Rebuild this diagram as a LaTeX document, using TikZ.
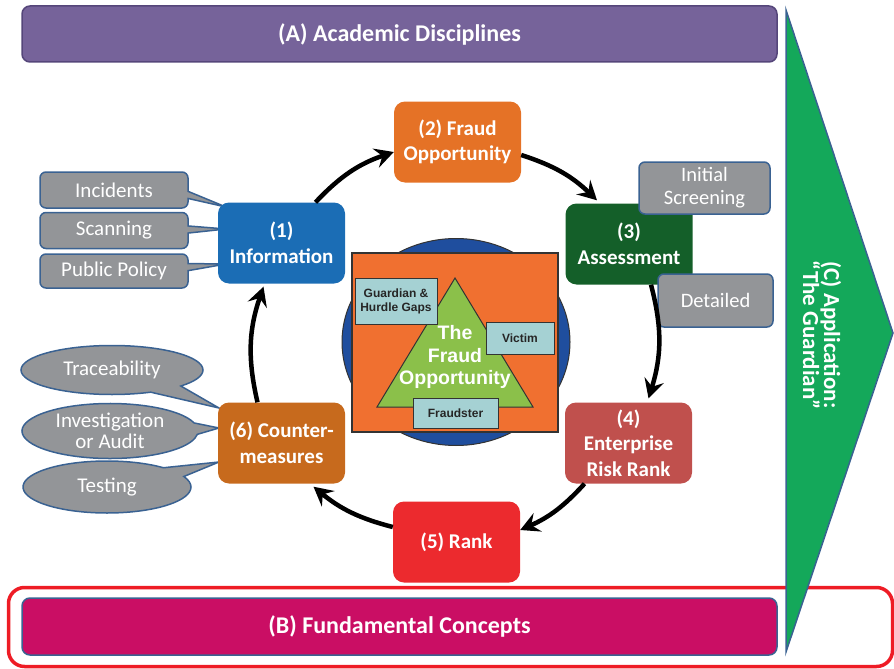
\documentclass[tikz,border=0pt]{standalone}
\usepackage{fontspec}
\setmainfont{Carlito}
\newfontfamily\arialf{Liberation Sans}
\usetikzlibrary{shapes.callouts,shapes.geometric,arrows.meta}
\definecolor{cpurple}{HTML}{76639A}
\definecolor{cpurpleD}{HTML}{55467A}
\definecolor{cmagenta}{HTML}{CA0E64}
\definecolor{cframe}{HTML}{EE1C25}
\definecolor{cgreenA}{HTML}{14A85A}
\definecolor{cedge}{HTML}{3A6292}
\definecolor{cgray}{HTML}{939598}
\definecolor{sblue}{HTML}{1B6DB5}
\definecolor{sorange}{HTML}{E57226}
\definecolor{sgreen}{HTML}{145F29}
\definecolor{srose}{HTML}{C0504D}
\definecolor{sred}{HTML}{EC2A2E}
\definecolor{sbrown}{HTML}{C76A1D}
\definecolor{ccirc}{HTML}{1F4E9E}
\definecolor{csq}{HTML}{F07030}
\definecolor{ctri}{HTML}{8BC04A}
\definecolor{clab}{HTML}{A5D1D3}
\begin{document}
\begin{tikzpicture}[x=1pt,y=-1pt,
  stepnode/.style={rounded corners=11pt, minimum width=127pt, minimum height=81pt,
    text=white, font=\fontsize{21}{25.5}\selectfont\bfseries, align=center, inner sep=2pt},
  callbox/.style={rectangle callout, rounded corners=6pt, fill=cgray, draw=cedge,
    line width=1.5pt, text=white, font=\fontsize{21}{23}\selectfont,
    minimum width=148pt, minimum height=36pt, align=center, inner sep=2pt},
  plainbox/.style={rounded corners=6pt, fill=cgray, draw=cedge,
    line width=1.5pt, text=white, font=\fontsize{20.5}{23}\selectfont,
    align=center, inner sep=2pt},
  ellcall/.style={ellipse callout, fill=cgray, draw=cedge, line width=1.5pt,
    text=white, font=\fontsize{21}{21}\selectfont, align=center, inner sep=0pt,
    callout pointer arc=24},
  lbox/.style={fill=clab, draw=black!80, line width=1pt, text=black!85,
    font=\arialf\bfseries\fontsize{12}{14}\selectfont, align=center, inner sep=1pt},
  cyc/.style={line width=4.5pt, -{Stealth[length=19pt,width=20pt,inset=7pt]}},
  bar/.style={rounded corners=8pt, line width=1.5pt, minimum width=755pt,
    minimum height=56pt, text=white, font=\fontsize{24}{28}\selectfont\bfseries}
]
\useasboundingbox (0,0) rectangle (894,669);

% bars
\node[bar, fill=cpurple, draw=cpurpleD] (A) at (399.5,34) {(A) Academic Disciplines};
\node[draw=cframe, line width=3.5pt, rounded corners=16pt, minimum width=884pt,
  minimum height=79pt] (frame) at (450.5,627) {};
\node[bar, fill=cmagenta, draw=cedge, minimum height=57pt] (B) at (399.5,626.5) {(B) Fundamental Concepts};

% green arrow
\draw[fill=cgreenA, draw=cedge, line width=1.5pt] (786,10) -- (893,333) -- (786,652) -- cycle;
\node[rotate=-90, text=white, font=\fontsize{23}{21}\selectfont\bfseries, align=center]
  (C) at (822,335) {(C) Application:\\``The Guardian''};

% centre
\node[ellipse, fill=ccirc, draw=black!80, line width=1pt, minimum width=228pt,
  minimum height=207pt] (circ) at (456,342) {};
\node[fill=csq, draw=black!80, line width=1.2pt, minimum width=206pt,
  minimum height=179pt] (sq) at (455,342.5) {};
\draw[fill=ctri, draw=black!80, line width=1pt] (455,278) -- (533,407) -- (377,407) -- cycle;
\node[text=white, font=\arialf\bfseries\fontsize{19.5}{22.5}\selectfont, align=center]
  (fo) at (455,357) {The\\Fraud\\Opportunity};
\node[lbox, minimum width=82pt, minimum height=46pt] (gh) at (396,301) {Guardian \&\\Hurdle Gaps};
\node[lbox, minimum width=68pt, minimum height=32pt] (vi) at (520,338) {Victim};
\node[lbox, minimum width=85pt, minimum height=30pt] (fr) at (455.5,413) {Fraudster};

\coordinate (p1) at (281.5,243);
\coordinate (p6) at (281.5,443);

% left callouts
\node[callbox, callout absolute pointer={(226,207)}] (inc) at (114,190) {Incidents};
\node[callbox, callout absolute pointer={(226,229)}] (scan) at (114,230.5) {Scanning};
\node[callbox, callout absolute pointer={(226,264)}, minimum height=34pt] (pub) at (114,271) {Public Policy};

\node[ellcall, minimum width=182pt, minimum height=49pt,
  callout absolute pointer={(219,408)}] (tr) at (112,370) {Traceability};
\node[ellcall, minimum width=176pt, minimum height=55pt,
  callout absolute pointer={(219,428)}] (inv) at (110,431) {Investigation\\or Audit};
\node[ellcall, minimum width=168pt, minimum height=52pt,
  callout absolute pointer={(219,462)}] (tes) at (107,487) {Testing};

% steps
\node[stepnode, fill=sblue] (n1) at (p1) {(1)\\Information};
\node[stepnode, fill=sorange] (n2) at (457.5,142) {(2) Fraud\\Opportunity};
\node[stepnode, fill=sgreen] (n3) at (629,244) {(3)\\Assessment};
\node[stepnode, fill=srose] (n4) at (628.5,443) {(4)\\Enterprise\\Risk Rank};
\node[stepnode, fill=sred] (n5) at (456.5,542) {(5) Rank};
\node[stepnode, fill=sbrown] (n6) at (p6) {(6) Counter-\\measures};

% right boxes
\node[plainbox, minimum width=131pt, minimum height=52pt] (ini) at (704.5,188) {Initial\\Screening};
\node[plainbox, minimum width=115pt, minimum height=53pt] (det) at (715.5,300.5) {Detailed};

% cycle arrows
\draw[cyc] ([xshift=34pt]n1.north) to[bend left=14] ([yshift=-10pt]n2.west);
\draw[cyc] ([yshift=-13pt]n2.east) to[bend left=13] ([xshift=-32pt,yshift=3pt]n3.north);
\draw[cyc] ([xshift=22pt]n3.south) to[bend left=16] ([xshift=20pt,yshift=4pt]n4.north);
\draw[cyc] ([xshift=-44pt]n4.south) to[bend left=12] ([yshift=12pt]n5.east);
\draw[cyc] ([yshift=15pt]n5.west) to[bend left=12.5] ([xshift=32pt,yshift=-3pt]n6.south);
\draw[cyc] ([xshift=-24pt]n6.north) to[bend left=16] ([xshift=-18pt,yshift=-3pt]n1.south);
\end{tikzpicture}
\end{document}
